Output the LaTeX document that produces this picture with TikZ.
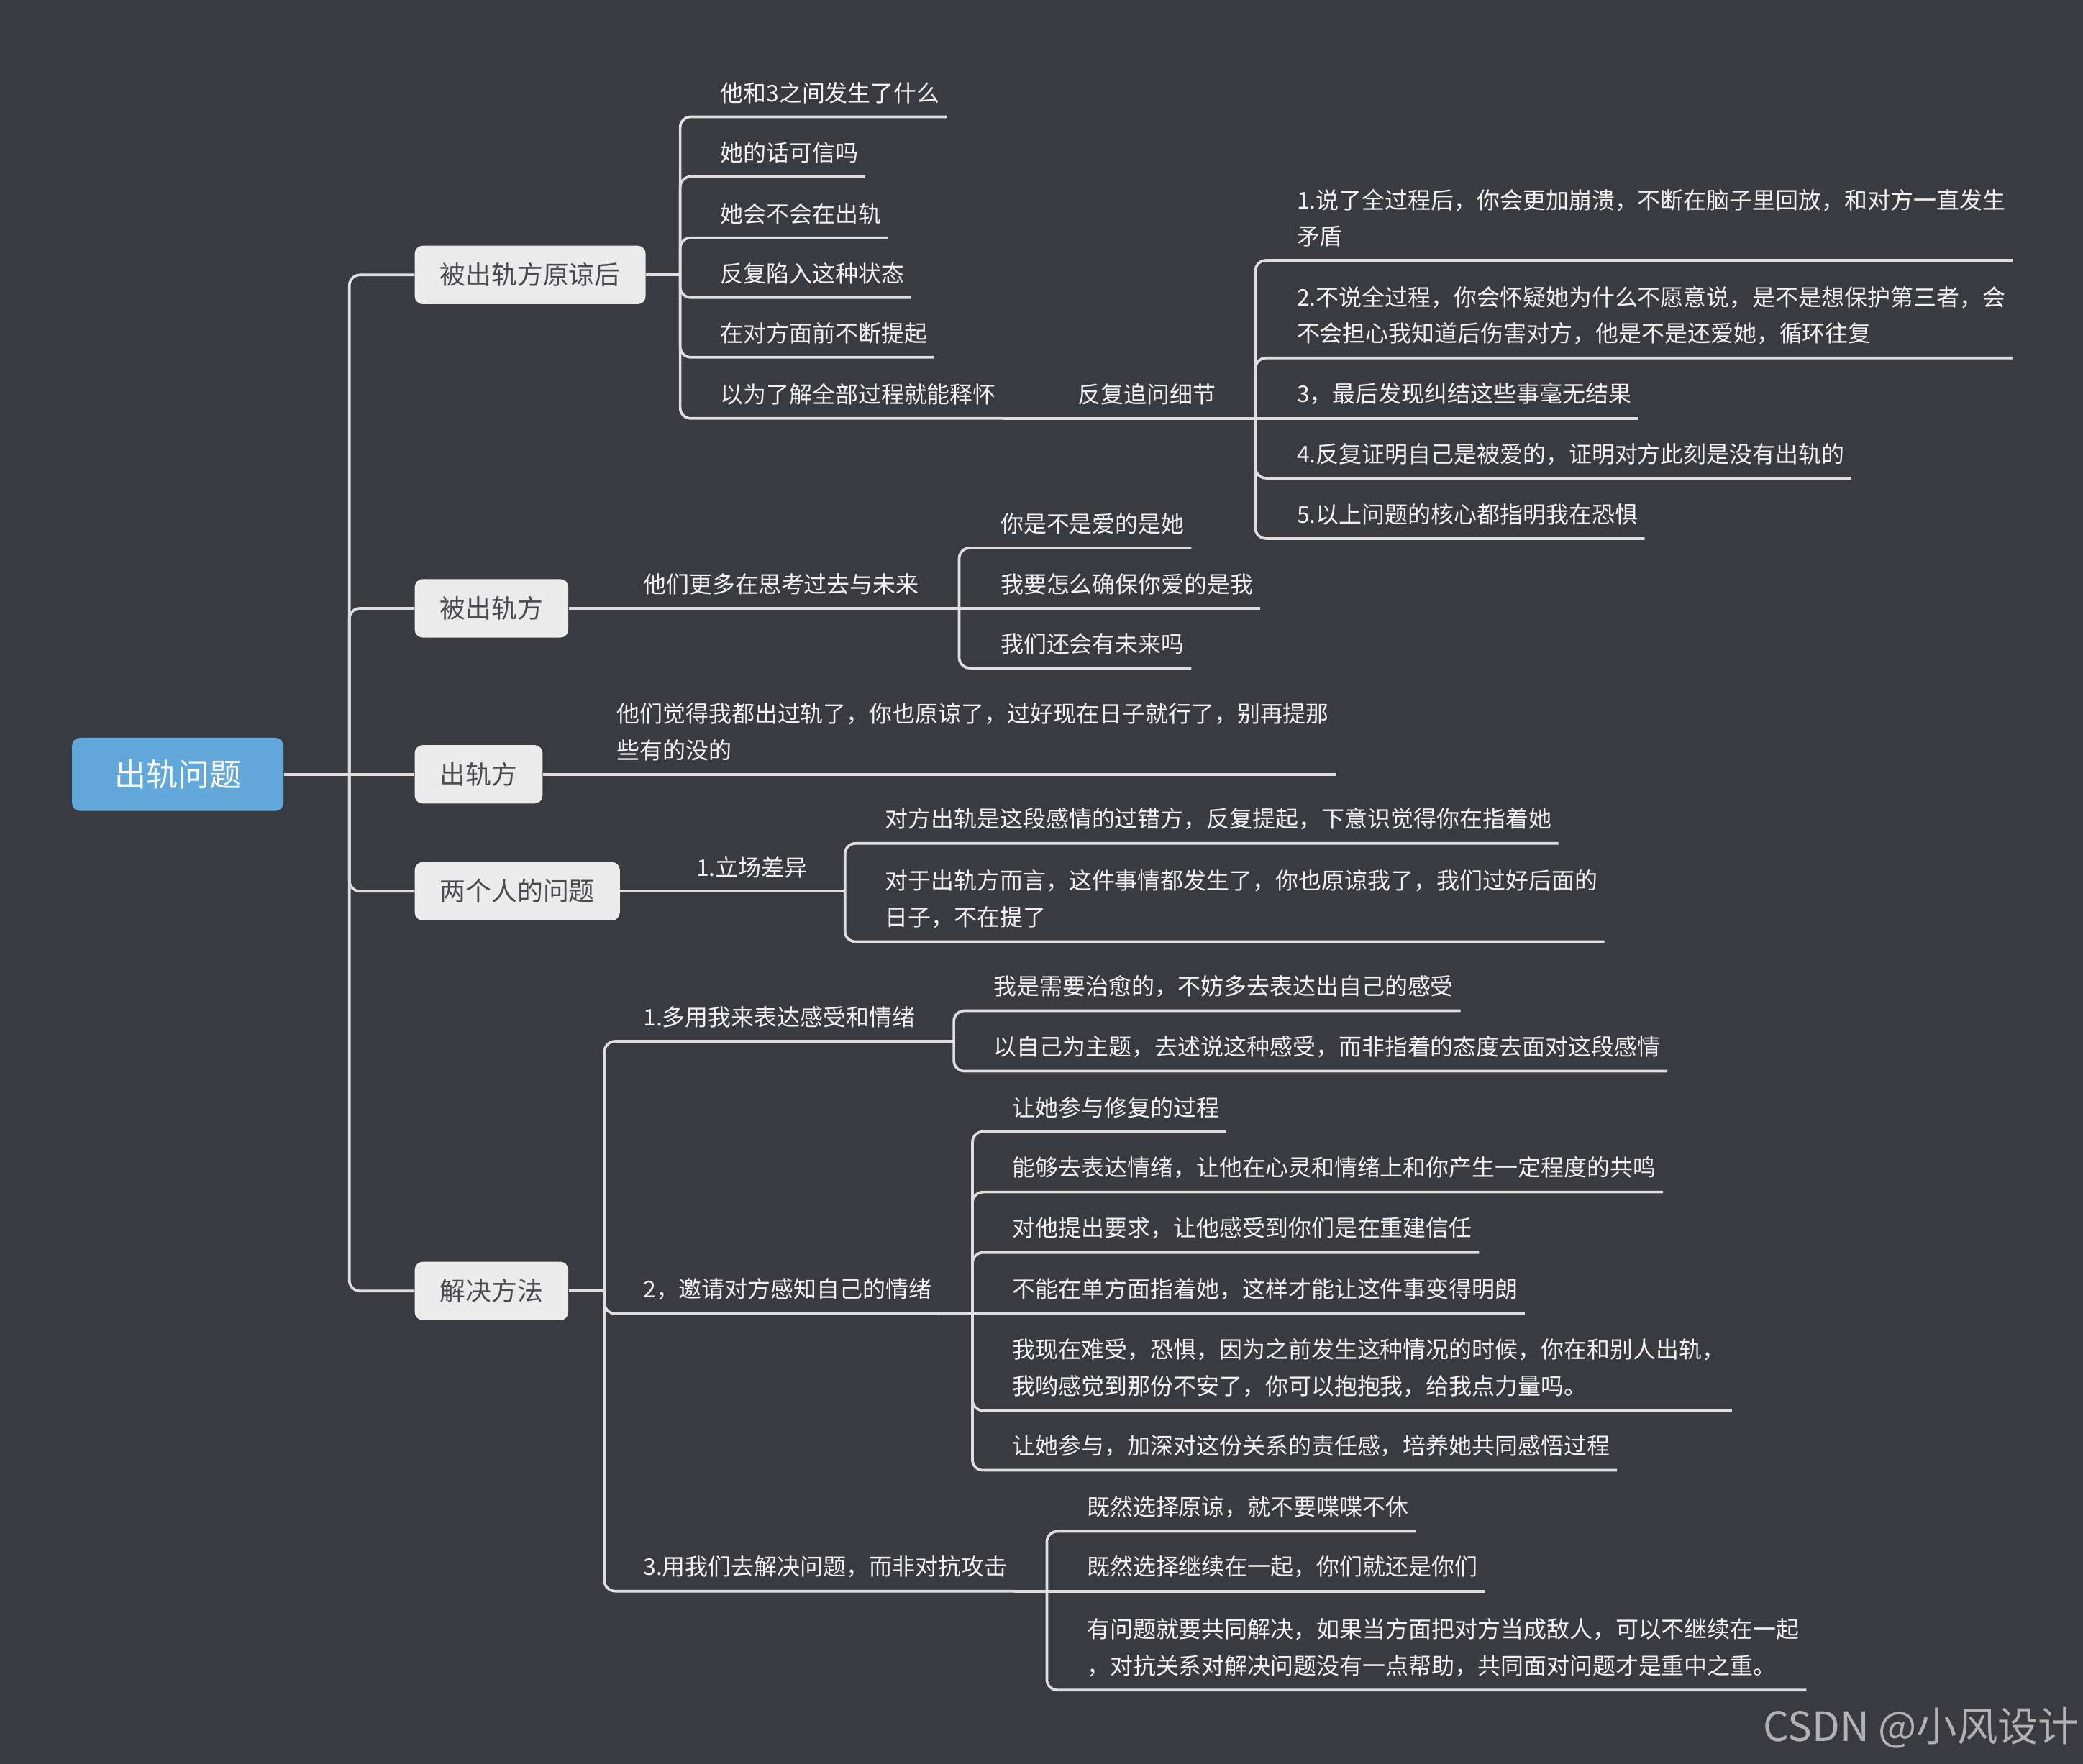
\documentclass[tikz,border=0pt]{standalone}
\usepackage{fontspec}
\setmainfont{Noto Sans CJK SC}
\definecolor{bg}{RGB}{58,59,64}
\definecolor{ln}{RGB}{222,222,224}
\definecolor{tx}{RGB}{242,242,242}
\definecolor{boxf}{RGB}{235,235,236}
\definecolor{boxt}{RGB}{74,74,80}
\definecolor{rootf}{RGB}{98,168,218}
\definecolor{wm}{RGB}{178,178,180}
\begin{document}
\begin{tikzpicture}[x=1pt,y=-1pt,
  conn/.style={draw=ln,line width=2pt,rounded corners=8pt},
  leaf/.style={anchor=south west,text=tx,inner xsep=5pt,inner ysep=9.8pt,align=left,font=\fontsize{17.3}{27.5}\selectfont},
  topic/.style={anchor=west,fill=boxf,text=boxt,rounded corners=6pt,inner xsep=19pt,minimum height=44pt,font=\fontsize{19.4}{23}\selectfont},
  rootbox/.style={anchor=west,fill=rootf,text=white,rounded corners=6pt,inner xsep=32pt,minimum height=55pt,font=\fontsize{23.8}{28}\selectfont}]
\fill[bg] (0,0) rectangle (1568,1328);
\useasboundingbox (0,0) rectangle (1568,1328);

% root and main topics
\node[rootbox] (root) at (54,583) {出轨问题};
\node[topic] (b1) at (312,207) {被出轨方原谅后};
\node[topic] (b2) at (312,458) {被出轨方};
\node[topic] (b3) at (312,583) {出轨方};
\node[topic] (b4) at (312,671) {两个人的问题};
\node[topic] (b5) at (312,972) {解决方法};

% spine points
\coordinate (s0) at (263,583);
\coordinate (s1) at (512,207);
\coordinate (g1s) at (945,315);
\coordinate (s2) at (722,458);
\coordinate (s4) at (636,671);
\coordinate (s5) at (455,972);
\coordinate (s51) at (718,784);
\coordinate (s52) at (732,989);
\coordinate (s53) at (788,1198);

% branch 1
\node[leaf] (a1) at (537,88) {他和3之间发生了什么};
\node[leaf] (a2) at (537,133) {她的话可信吗};
\node[leaf] (a3) at (537,179) {她会不会在出轨};
\node[leaf] (a4) at (537,224) {反复陷入这种状态};
\node[leaf] (a5) at (537,269) {在对方面前不断提起};
\node[leaf] (a6) at (537,315) {以为了解全部过程就能释怀};
\node[leaf] (g1) at (806,315) {反复追问细节};
\node[leaf] (h1) at (971,196) {1.说了全过程后，你会更加崩溃，不断在脑子里回放，和对方一直发生\\矛盾};
\node[leaf] (h2) at (971,269.5) {2.不说全过程，你会怀疑她为什么不愿意说，是不是想保护第三者，会\\不会担心我知道后伤害对方，他是不是还爱她，循环往复};
\node[leaf] (h3) at (971,315) {3，最后发现纠结这些事毫无结果};
\node[leaf] (h4) at (971,360) {4.反复证明自己是被爱的，证明对方此刻是没有出轨的};
\node[leaf] (h5) at (971,405.5) {5.以上问题的核心都指明我在恐惧};

% branch 2
\node[leaf] (c21) at (479,458) {他们更多在思考过去与未来};
\node[leaf] (i1) at (748,412.5) {你是不是爱的是她};
\node[leaf] (i2) at (748,458) {我要怎么确保你爱的是我};
\node[leaf] (i3) at (748,503) {我们还会有未来吗};

% branch 3
\node[leaf] (c31) at (459,583) {他们觉得我都出过轨了，你也原谅了，过好现在日子就行了，别再提那\\些有的没的};

% branch 4
\node[leaf] (c41) at (519,671) {1.立场差异};
\node[leaf] (j1) at (661,635) {对方出轨是这段感情的过错方，反复提起，下意识觉得你在指着她};
\node[leaf] (j2) at (661,709) {对于出轨方而言，这件事情都发生了，你也原谅我了，我们过好后面的\\日子，不在提了};

% branch 5
\node[leaf] (c51) at (479,784) {1.多用我来表达感受和情绪};
\node[leaf] (c52) at (479,989) {2，邀请对方感知自己的情绪};
\node[leaf] (c53) at (479,1198) {3.用我们去解决问题，而非对抗攻击};
\node[leaf] (d1) at (743,761) {我是需要治愈的，不妨多去表达出自己的感受};
\node[leaf] (d2) at (743,806.5) {以自己为主题，去述说这种感受，而非指着的态度去面对这段感情};
\node[leaf] (e1) at (757,852) {让她参与修复的过程};
\node[leaf] (e2) at (757,897.5) {能够去表达情绪，让他在心灵和情绪上和你产生一定程度的共鸣};
\node[leaf] (e3) at (757,943) {对他提出要求，让他感受到你们是在重建信任};
\node[leaf] (e4) at (757,989) {不能在单方面指着她，这样才能让这件事变得明朗};
\node[leaf] (e5) at (757,1062) {我现在难受，恐惧，因为之前发生这种情况的时候，你在和别人出轨，\\我哟感觉到那份不安了，你可以抱抱我，给我点力量吗。};
\node[leaf] (e6) at (757,1107) {让她参与，加深对这份关系的责任感，培养她共同感悟过程};
\node[leaf] (f1) at (813,1153) {既然选择原谅，就不要喋喋不休};
\node[leaf] (f2) at (813,1198) {既然选择继续在一起，你们就还是你们};
\node[leaf] (f3) at (813,1272.5) {有问题就要共同解决，如果当方面把对方当成敌人，可以不继续在一起\\，对抗关系对解决问题没有一点帮助，共同面对问题才是重中之重。};

% watermark
\node[anchor=east,text=wm,inner sep=0pt,font=\fontsize{30.5}{36}\selectfont] (wmk) at (1565,1301) {CSDN @小风设计};

% connectors: root
\draw[conn] (root.east) -- (b3.west);
\foreach \n in {b1,b2,b4,b5} \draw[conn] (s0) |- (\n.west);

% branch 1
\draw[conn] (b1.east) -- (s1);
\foreach \n in {a1,a2,a3,a4,a5,a6} \draw[conn] (s1) |- (\n.south east);
\draw[conn] (a6.south east) -- (g1.south east) -- (g1s);
\foreach \n in {h1,h2,h4,h5} \draw[conn] (g1s) |- (\n.south east);
\draw[conn] (g1s) -- (h3.south east);

% branch 2
\draw[conn] (b2.east) -- (c21.south east) -- (s2);
\foreach \n in {i1,i3} \draw[conn] (s2) |- (\n.south east);
\draw[conn] (s2) -- (i2.south east);

% branch 3
\draw[conn] (b3.east) -- (c31.south east);

% branch 4
\draw[conn] (b4.east) -- (c41.south east) -- (s4);
\foreach \n in {j1,j2} \draw[conn] (s4) |- (\n.south east);

% branch 5
\draw[conn] (b5.east) -- (s5);
\foreach \n in {c51,c52,c53} \draw[conn] (s5) |- (\n.south east);
\draw[conn] (c51.south east) -- (s51);
\foreach \n in {d1,d2} \draw[conn] (s51) |- (\n.south east);
\draw[conn] (c52.south east) -- (s52);
\foreach \n in {e1,e2,e3,e5,e6} \draw[conn] (s52) |- (\n.south east);
\draw[conn] (s52) -- (e4.south east);
\draw[conn] (c53.south east) -- (s53);
\foreach \n in {f1,f3} \draw[conn] (s53) |- (\n.south east);
\draw[conn] (s53) -- (f2.south east);
\end{tikzpicture}
\end{document}
